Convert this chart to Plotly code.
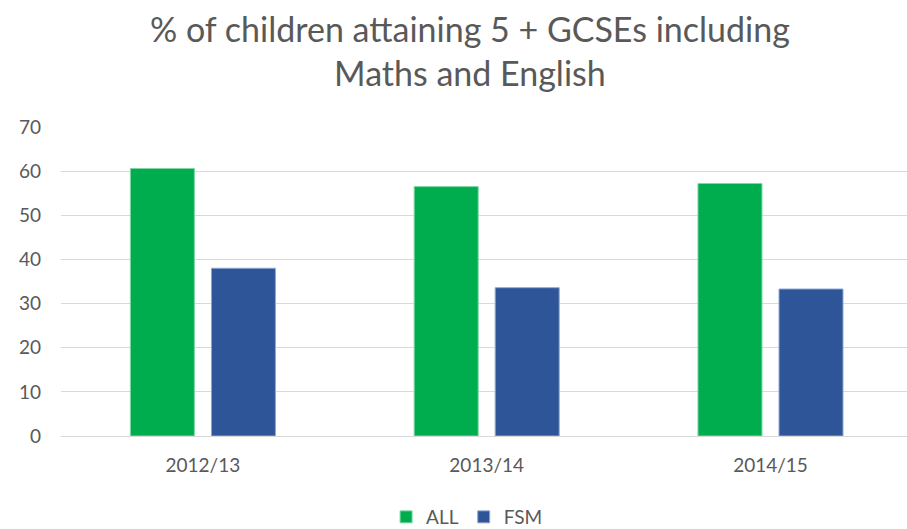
import plotly.graph_objects as go

# Share of pupils achieving 5+ GCSEs incl. Maths and English
years = ["2012/13", "2013/14", "2014/15"]
all_pupils = [60.6, 56.5, 57.2]
fsm_pupils = [38.0, 33.6, 33.3]
y_ticks = [0, 10, 20, 30, 40, 50, 60, 70]

FONT = "Lato"
TEXT = "#595959"
GREEN = "#00AD4E"
BLUE = "#2E5597"

x_pos = list(range(len(years)))

fig = go.Figure()
fig.add_trace(go.Bar(
    x=x_pos, y=all_pupils, name="ALL",
    marker=dict(color=GREEN, line=dict(color="#7ED6A4", width=1)),
))
fig.add_trace(go.Bar(
    x=x_pos, y=fsm_pupils, name="FSM",
    marker=dict(color=BLUE, line=dict(color="#8FA8D4", width=1)),
))

fig.add_annotation(
    text="% of children attaining 5 + GCSEs including<br>Maths and English",
    xref="paper", yref="paper", x=(470 - 61) / 846, y=1 + (127 - 6) / 309,
    xanchor="center", yanchor="top", showarrow=False,
    font=dict(family=FONT, size=34, color=TEXT),
)

fig.update_layout(
    width=907, height=529,
    paper_bgcolor="white", plot_bgcolor="white",
    margin=dict(l=61, r=0, t=127, b=93, autoexpand=False),
    barmode="group", bargap=0.429, bargroupgap=0.21,
    font=dict(family=FONT, color=TEXT, size=19),
    showlegend=True,
    legend=dict(
        orientation="h", x=0.48, xanchor="center",
        yref="container", y=(529 - 517) / 529, yanchor="middle",
        font=dict(family=FONT, size=19, color=TEXT),
        itemwidth=30, traceorder="normal",
    ),
    xaxis=dict(
        tickmode="array", tickvals=x_pos, ticktext=years,
        range=[-0.5, 2.481], showgrid=False, zeroline=False,
        showline=False, ticks="", ticklabelstandoff=16,
        tickfont=dict(family=FONT, size=19, color=TEXT),
    ),
    yaxis=dict(
        range=[0, 70], tickvals=y_ticks, showgrid=True,
        gridcolor="#D9D9D9", gridwidth=1, zeroline=True,
        zerolinecolor="#D9D9D9", zerolinewidth=1, showline=False,
        ticks="", ticklabelstandoff=19,
        tickfont=dict(family=FONT, size=19, color=TEXT),
    ),
)

fig.write_html("out.html")
